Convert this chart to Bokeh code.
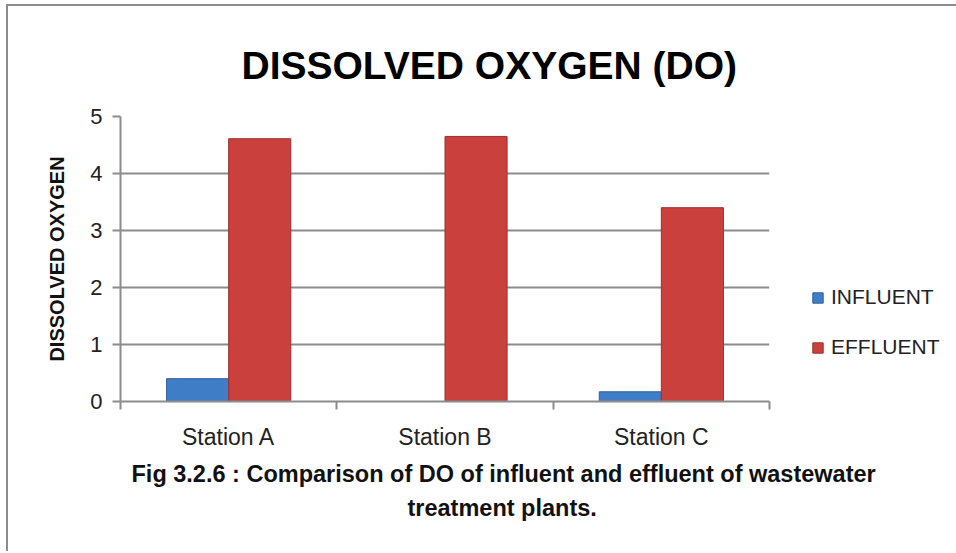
from bokeh.plotting import figure
from bokeh.models import Range1d, FixedTicker, Legend, LegendItem, Title, ColumnDataSource
from bokeh.embed import file_html
from bokeh.resources import INLINE

stations = ["Station A", "Station B", "Station C"]
influent = [0.40, 0.0, 0.17]
effluent = [4.61, 4.65, 3.40]
y_ticks = [0, 1, 2, 3, 4, 5]
series_names = ["INFLUENT", "EFFLUENT"]
title_text = "DISSOLVED OXYGEN (DO)"
y_label = "DISSOLVED OXYGEN"
caption_1 = "Fig 3.2.6 : Comparison  of DO of influent and  effluent of wastewater"
caption_2 = "treatment plants."

FONT = "Liberation Sans"
GREY = "#8c8c8c"
BAR_W = 0.287
BLUE = "#3f7dc6"
RED = "#c9403d"

idx = list(range(len(stations)))
centers = [i + 0.5 for i in idx]

src = ColumnDataSource(dict(
    xi=[c - BAR_W / 2 for c in centers],
    xe=[c + BAR_W / 2 for c in centers],
    inf=influent,
    eff=effluent,
))

p = figure(frame_width=649, frame_height=285, x_range=Range1d(0, len(stations)), y_range=Range1d(0, 5),
           output_backend="svg", toolbar_location=None,
           min_border_left=112, min_border_right=187, min_border_top=110, min_border_bottom=150)
p.styles = {"border-left": "2px solid #8c8c8c", "border-top": "2px solid #8c8c8c",
            "margin-left": "6px", "margin-top": "4px"}
p.outline_line_color = None
p.background_fill_color = "white"

r_inf = p.vbar(x="xi", top="inf", width=BAR_W, bottom=0, source=src,
               fill_color=BLUE, line_color="#2d5f9e", line_width=1)
r_eff = p.vbar(x="xe", top="eff", width=BAR_W, bottom=0, source=src,
               fill_color=RED, line_color="#9e2f2c", line_width=1)

# title
p.title.text = title_text
p.title.align = "left"
p.title.offset = 121
p.title.text_font = FONT
p.title.text_font_size = "39px"
p.title.text_font_style = "bold"
p.title.text_color = "black"
p.title.standoff = 59

# x axis: labels at centres, ticks at category boundaries
p.xaxis.ticker = FixedTicker(ticks=centers, minor_ticks=[0] + [i + 1 for i in idx])
p.xaxis.major_label_overrides = {c: s for c, s in zip(centers, stations)}
p.xaxis.major_tick_out = 0
p.xaxis.major_tick_in = 0
p.xaxis.minor_tick_out = 8
p.xaxis.minor_tick_in = 0
p.xaxis.minor_tick_line_color = GREY
p.xaxis.minor_tick_line_width = 2
p.xaxis.axis_line_color = GREY
p.xaxis.axis_line_width = 2
p.xaxis.major_label_text_font = FONT
p.xaxis.major_label_text_font_size = "23px"
p.xaxis.major_label_text_color = "#222222"
p.xaxis.major_label_standoff = 14
p.xgrid.visible = False

p.yaxis.ticker = FixedTicker(ticks=y_ticks)
p.yaxis.major_tick_out = 8
p.yaxis.major_tick_in = 0
p.yaxis.minor_tick_line_color = None
p.yaxis.major_tick_line_color = GREY
p.yaxis.major_tick_line_width = 2
p.yaxis.axis_line_color = GREY
p.yaxis.axis_line_width = 2
p.yaxis.major_label_text_font = FONT
p.yaxis.major_label_text_font_size = "22px"
p.yaxis.major_label_text_color = "#222222"
p.yaxis.major_label_standoff = 10
p.yaxis.axis_label = y_label
p.yaxis.axis_label_text_font = FONT
p.yaxis.axis_label_text_font_size = "20px"
p.yaxis.axis_label_text_font_style = "bold"
p.yaxis.axis_label_text_color = "#111111"
p.yaxis.axis_label_standoff = 19
p.ygrid.grid_line_color = GREY
p.ygrid.grid_line_width = 2

legend = Legend(items=[LegendItem(label=series_names[0], renderers=[r_inf]),
                       LegendItem(label=series_names[1], renderers=[r_eff])],
                location=(42, 42), orientation="vertical",
                glyph_width=13, glyph_height=13, label_height=20, spacing=26,
                padding=0, margin=0, border_line_color=None, background_fill_alpha=0,
                label_text_font=FONT, label_text_font_size="21px", label_standoff=7,
                label_text_color="#222222")
p.add_layout(legend, "right")

cap1 = Title(text=caption_1, align="left", offset=11, standoff=12, text_font=FONT,
             text_font_size="23.5px", text_font_style="bold", text_color="#111111")
cap2 = Title(text=caption_2, align="left", offset=287, standoff=0, text_font=FONT,
             text_font_size="23.5px", text_font_style="bold", text_color="#111111")
p.add_layout(cap1, "below")
p.add_layout(cap2, "below")

open("out.html", "w").write(file_html(p, INLINE))
